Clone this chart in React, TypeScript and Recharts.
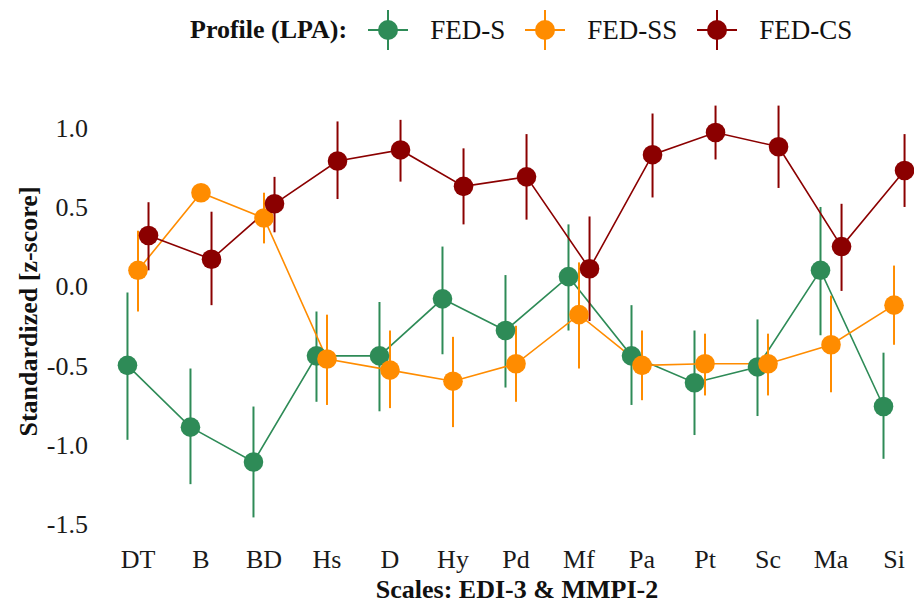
import React from 'react';
import { ComposedChart, Line, XAxis, YAxis, ErrorBar, Label } from 'recharts';

const categories = ['DT', 'B', 'BD', 'Hs', 'D', 'Hy', 'Pd', 'Mf', 'Pa', 'Pt', 'Sc', 'Ma', 'Si'];

const fedS = [-0.5, -0.89, -1.11, -0.44, -0.44, -0.08, -0.28, 0.06, -0.44, -0.61, -0.51, 0.1, -0.76];
const fedSLow = [-0.97, -1.25, -1.46, -0.73, -0.79, -0.43, -0.64, -0.28, -0.75, -0.94, -0.82, -0.31, -1.09];
const fedSHigh = [-0.04, -0.52, -0.76, -0.16, -0.1, 0.25, 0.07, 0.39, -0.12, -0.28, -0.21, 0.5, -0.42];

const fedSS = [0.1, 0.59, 0.43, -0.46, -0.53, -0.6, -0.49, -0.18, -0.5, -0.49, -0.49, -0.37, -0.12];
const fedSSLow = [-0.16, 0.56, 0.27, -0.75, -0.77, -0.89, -0.73, -0.52, -0.72, -0.69, -0.69, -0.67, -0.37];
const fedSSHigh = [0.35, 0.62, 0.59, -0.18, -0.28, -0.32, -0.25, 0.15, -0.28, -0.3, -0.3, -0.06, 0.13];

const fedCS = [0.32, 0.17, 0.52, 0.79, 0.86, 0.63, 0.69, 0.11, 0.83, 0.97, 0.88, 0.25, 0.73];
const fedCSLow = [0.1, -0.12, 0.34, 0.55, 0.66, 0.39, 0.42, -0.22, 0.56, 0.8, 0.62, -0.03, 0.5];
const fedCSHigh = [0.53, 0.47, 0.69, 1.04, 1.05, 0.87, 0.96, 0.44, 1.09, 1.14, 1.14, 0.52, 0.96];

const yTicks = [-1.5, -1.0, -0.5, 0.0, 0.5, 1.0];
const seriesNames = ['FED-S', 'FED-SS', 'FED-CS'];

const COLORS = { s: '#2E8B57', ss: '#FF8C00', cs: '#8B0000' };
const FONT = '"Liberation Serif", "Times New Roman", serif';

const data = categories.map((c, i) => ({
  idx: i,
  cat: c,
  s: fedS[i],
  sErr: [fedS[i] - fedSLow[i], fedSHigh[i] - fedS[i]],
  ss: fedSS[i],
  ssErr: [fedSS[i] - fedSSLow[i], fedSSHigh[i] - fedSS[i]],
  cs: fedCS[i],
  csErr: [fedCS[i] - fedCSLow[i], fedCSHigh[i] - fedCS[i]],
}));

const tickIdx = categories.map((_, i) => i);

const makeDot = (color: string) => (p: any) => (
  <circle key={`d-${color}-${p.index}`} cx={p.cx} cy={p.cy} r={9.8} fill={color} stroke="none" />
);

const Glyph = ({ color }: { color: string }) => (
  <svg width={40} height={40} style={{ display: 'block' }}>
    <line x1={0} y1={20} x2={40} y2={20} stroke={color} strokeWidth={1.8} />
    <line x1={20} y1={0} x2={20} y2={40} stroke={color} strokeWidth={2} />
    <circle cx={20} cy={20} r={10} fill={color} />
  </svg>
);

export default function App() {
  const legendColors = [COLORS.s, COLORS.ss, COLORS.cs];
  return (
    <div style={{ position: 'relative', width: 914, height: 605, background: '#fff' }}>
      <style>{`body{margin:0;}`}</style>
      <div
        style={{
          position: 'absolute',
          left: 0,
          top: 10,
          height: 40,
          display: 'flex',
          alignItems: 'center',
          paddingLeft: 190,
          fontFamily: FONT,
          color: '#111',
          whiteSpace: 'nowrap',
        }}
      >
        <span style={{ fontWeight: 700, fontSize: 26, marginRight: 21 }}>Profile (LPA):</span>
        {seriesNames.map((n, i) => (
          <React.Fragment key={n}>
            <Glyph color={legendColors[i]} />
            <span style={{ fontSize: 27, marginLeft: 22, marginRight: 20 }}>{n}</span>
          </React.Fragment>
        ))}
      </div>
      <ComposedChart
        width={914}
        height={605}
        data={data}
        margin={{ top: 85, right: 0, bottom: 0, left: 0 }}
      >
        <XAxis
          xAxisId="mid"
          type="number"
          dataKey="idx"
          domain={[-0.603, 12.317]}
          allowDataOverflow
          ticks={tickIdx}
          interval={0}
          tickFormatter={(v: number) => categories[v]}
          axisLine={false}
          tickLine={false}
          tickSize={0}
          tickMargin={12}
          height={67}
          tick={{ fontSize: 26, fill: '#1a1a1a', fontFamily: FONT }}
        >
          <Label
            value="Scales: EDI-3 & MMPI-2"
            position="insideBottom"
            offset={7}
            dx={10}
            style={{ fontSize: 26, fontWeight: 700, fill: '#111', fontFamily: FONT }}
          />
        </XAxis>
        <XAxis xAxisId="left" type="number" dataKey="idx" domain={[-0.436, 12.484]} allowDataOverflow hide height={0} />
        <XAxis xAxisId="right" type="number" dataKey="idx" domain={[-0.77, 12.15]} allowDataOverflow hide height={0} />
        <YAxis
          yAxisId="y"
          type="number"
          domain={[-1.59, 1.27]}
          allowDataOverflow
          ticks={yTicks}
          tickFormatter={(v: number) => v.toFixed(1)}
          axisLine={false}
          tickLine={false}
          tickSize={0}
          tickMargin={12}
          width={100}
          tick={{ fontSize: 26, fill: '#1a1a1a', fontFamily: FONT }}
        >
          <Label
            value="Standardized [z-score]"
            angle={-90}
            position="insideLeft"
            offset={28}
            style={{ textAnchor: 'middle', fontSize: 26, fontWeight: 700, fill: '#111', fontFamily: FONT }}
          />
        </YAxis>
        <Line
          xAxisId="left"
          yAxisId="y"
          dataKey="s"
          name="FED-S"
          stroke={COLORS.s}
          strokeWidth={1.6}
          dot={makeDot(COLORS.s)}
          activeDot={false}
          isAnimationActive={false}
        >
          <ErrorBar dataKey="sErr" direction="y" width={0} strokeWidth={2} stroke={COLORS.s} isAnimationActive={false} />
        </Line>
        <Line
          xAxisId="mid"
          yAxisId="y"
          dataKey="ss"
          name="FED-SS"
          stroke={COLORS.ss}
          strokeWidth={1.6}
          dot={makeDot(COLORS.ss)}
          activeDot={false}
          isAnimationActive={false}
        >
          <ErrorBar dataKey="ssErr" direction="y" width={0} strokeWidth={2} stroke={COLORS.ss} isAnimationActive={false} />
        </Line>
        <Line
          xAxisId="right"
          yAxisId="y"
          dataKey="cs"
          name="FED-CS"
          stroke={COLORS.cs}
          strokeWidth={1.6}
          dot={makeDot(COLORS.cs)}
          activeDot={false}
          isAnimationActive={false}
        >
          <ErrorBar dataKey="csErr" direction="y" width={0} strokeWidth={2} stroke={COLORS.cs} isAnimationActive={false} />
        </Line>
      </ComposedChart>
    </div>
  );
}
